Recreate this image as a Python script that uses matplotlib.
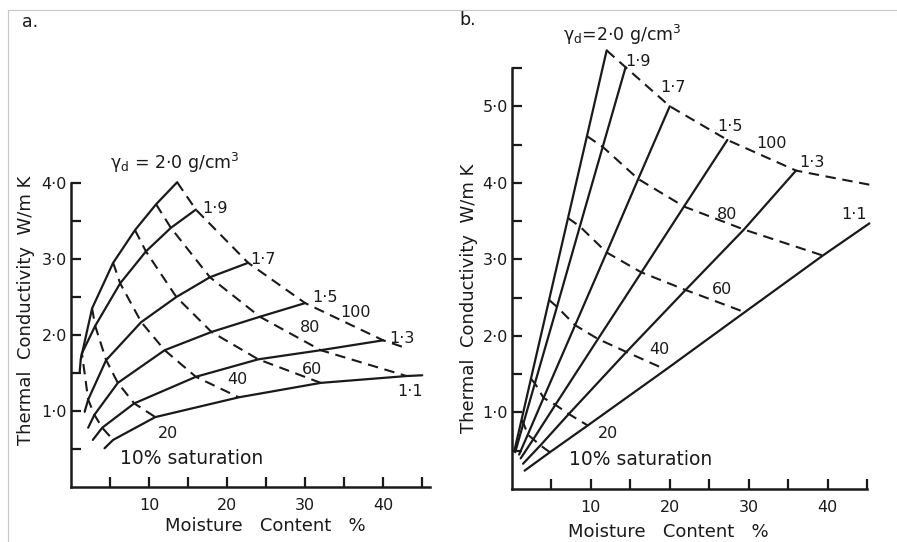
import numpy as np
import matplotlib
matplotlib.use("Agg")
import matplotlib.pyplot as plt
from matplotlib.lines import Line2D

plt.rcParams['font.family'] = ['DejaVu Sans']

nan = np.nan
sat_levels = [10, 20, 40, 60, 80, 100]
densities = ["2·0", "1·9", "1·7", "1·5", "1·3", "1·1"]

# ---------------- panel a ----------------
a_start_w = [1.1, 1.4, 1.75, 2.2, 2.8, 4.3]
a_start_k = [1.50, 1.76, 0.99, 0.78, 0.62, 0.51]
a_w = [
    [1.25, 2.7, 5.4, 8.2, 10.9, 13.6],
    [1.4, 3.1, 6.3, 9.6, 12.8, 16.0],
    [2.2, 4.5, 9.0, 13.5, 17.8, 22.7],
    [3.0, 6.0, 12.0, 18.0, 24.2, 30.0],
    [4.0, 8.1, 16.0, 24.0, 32.0, 40.0],
    [5.4, 10.8, 21.5, 32.0, 43.0, nan],
]
a_k = [
    [1.68, 2.35, 2.95, 3.38, 3.72, 4.01],
    [1.76, 2.12, 2.68, 3.10, 3.41, 3.65],
    [1.15, 1.67, 2.17, 2.50, 2.76, 2.95],
    [0.95, 1.37, 1.80, 2.04, 2.24, 2.42],
    [0.78, 1.10, 1.45, 1.68, 1.80, 1.93],
    [0.62, 0.92, 1.18, 1.37, 1.46, nan],
]
a_ext_w, a_ext_k = 45.0, 1.47          # 1·1 curve runs to the axis end
a_tail_w, a_tail_k = 42.6, 1.84        # short tail of the 100 % line

# ---------------- panel b ----------------
b_start_w = [0.3, 0.4, 0.9, 1.1, 1.4, 1.6]
b_start_k = [0.50, 0.48, 0.45, 0.40, 0.33, 0.24]
b_w = [
    [1.2, 2.4, 4.7, 7.1, 9.5, 12.0],
    [1.45, 2.9, 5.7, 8.6, 11.5, 14.4],
    [2.0, 4.0, 8.0, 12.0, 16.0, 20.0],
    [2.7, 5.5, 10.9, 16.4, 21.8, 27.3],
    [3.6, 7.2, 14.5, 22.0, 29.4, 36.0],
    [4.8, 9.6, 19.5, 29.5, 39.4, nan],
]
b_k = [
    [0.90, 1.44, 2.47, 3.54, 4.61, 5.73],
    [0.86, 1.38, 2.38, 3.43, 4.47, 5.51],
    [0.71, 1.19, 2.14, 3.09, 4.05, 5.00],
    [0.65, 1.10, 1.96, 2.83, 3.69, 4.56],
    [0.57, 0.98, 1.79, 2.60, 3.39, 4.16],
    [0.48, 0.83, 1.56, 2.31, 3.05, nan],
]
b_ext_w, b_ext_k = 45.3, 3.47
b_tail_w = [41.0, 45.6]
b_tail_k = [4.06, 3.97]

# label positions (data coords)
a_labels = [("1·9", 18.4, 3.66), ("1·7", 24.6, 3.00), ("1·5", 32.6, 2.49),
            ("100", 36.4, 2.30), ("80", 30.6, 2.10), ("1·3", 42.4, 1.96),
            ("60", 30.9, 1.55), ("40", 21.3, 1.42), ("1·1", 43.5, 1.26),
            ("20", 12.4, 0.71)]
b_labels = [("1·9", 16.0, 5.58), ("1·7", 20.4, 5.24), ("1·5", 27.6, 4.73),
            ("100", 32.9, 4.51), ("1·3", 38.0, 4.26), ("80", 27.3, 3.59),
            ("1·1", 43.3, 3.58), ("60", 26.6, 2.60), ("40", 18.7, 1.82),
            ("20", 12.2, 0.73)]

x_ticks = [5, 10, 15, 20, 25, 30, 35, 40, 45]
x_ticklabels = ["", "10", "", "20", "", "30", "", "40", ""]
a_yticks = [0.5, 1.0, 1.5, 2.0, 2.5, 3.0, 3.5, 4.0]
a_yticklabels = ["", "1·0", "", "2·0", "", "3·0", "", "4·0"]
b_yticks = [0.5, 1.0, 1.5, 2.0, 2.5, 3.0, 3.5, 4.0, 4.5, 5.0, 5.5]
b_yticklabels = ["", "1·0", "", "2·0", "", "3·0", "", "4·0", "", "5·0", ""]

INK = "#1a1a1a"
W, H = 897, 542
fig = plt.figure(figsize=(W / 100, H / 100), dpi=100)


def px_axes(x0, ybot, w, h):
    return fig.add_axes([x0 / W, (H - ybot) / H, w / W, h / H])


axA = px_axes(71, 487, 359, 304)
axB = px_axes(512, 489, 355, 421)

dash = (0, (5, 3.2))


def draw(ax, sw, sk, ww, kk, ext, tail):
    n = len(sw)
    for i in range(n):
        xs = [sw[i]] + [v for v in ww[i] if not np.isnan(v)]
        ys = [sk[i]] + [v for v in kk[i] if not np.isnan(v)]
        if i == n - 1:
            xs.append(ext[0]); ys.append(ext[1])
        ax.plot(xs, ys, color=INK, lw=1.6, clip_on=False,
                solid_capstyle='round', solid_joinstyle='round')
    for j in range(len(sat_levels)):
        xs = [ww[i][j] for i in range(n) if not np.isnan(ww[i][j])]
        ys = [kk[i][j] for i in range(n) if not np.isnan(kk[i][j])]
        if j == len(sat_levels) - 1:
            xs += list(np.atleast_1d(tail[0])); ys += list(np.atleast_1d(tail[1]))
        ax.plot(xs, ys, color=INK, lw=1.5, ls=dash, clip_on=False)


draw(axA, a_start_w, a_start_k, a_w, a_k, (a_ext_w, a_ext_k), (a_tail_w, a_tail_k))
draw(axB, b_start_w, b_start_k, b_w, b_k, (b_ext_w, b_ext_k), (b_tail_w, b_tail_k))

for ax, xmax, ymax, yt, ytl in [(axA, 46, 4.0, a_yticks, a_yticklabels),
                                 (axB, 45, 5.5, b_yticks, b_yticklabels)]:
    ax.set_xlim(0, xmax)
    ax.set_ylim(0, ymax)
    for s in ("top", "right"):
        ax.spines[s].set_visible(False)
    for s in ("left", "bottom"):
        ax.spines[s].set_linewidth(1.8)
        ax.spines[s].set_color(INK)
    ax.set_xticks(x_ticks)
    ax.set_xticklabels(x_ticklabels)
    ax.set_yticks(yt)
    ax.set_yticklabels(ytl)
    ax.tick_params(direction='in', length=7, width=1.6, color=INK,
                   labelsize=11.5, labelcolor=INK)
    ax.tick_params(axis='x', pad=8)
    ax.tick_params(axis='y', pad=3)
    ax.patch.set_alpha(0)

axA.set_xlabel("Moisture   Content   %", fontsize=13, color=INK)
axA.xaxis.set_label_coords(0.54, -0.10)
axA.set_ylabel("Thermal  Conductivity  W/m K", fontsize=13, color=INK)
axA.yaxis.set_label_coords(-0.10, 0.58)

axB.set_xlabel("Moisture   Content   %", fontsize=13, color=INK)
axB.xaxis.set_label_coords(0.44, -0.08)
axB.set_ylabel("Thermal  Conductivity  W/m K", fontsize=13, color=INK)
axB.yaxis.set_label_coords(-0.096, 0.454)

for ax, labs in [(axA, a_labels), (axB, b_labels)]:
    for t, x, y in labs:
        ax.text(x, y, t, fontsize=11.5, color=INK, ha='center', va='center',
                clip_on=False)

axA.text(15.4, 0.38, "10% saturation", fontsize=13.5, color=INK,
         ha='center', va='center')
axB.text(16.3, 0.39, "10% saturation", fontsize=13.5, color=INK,
         ha='center', va='center')

axA.text(5.0, 4.26, "γ$_\\mathregular{d}$ = 2·0 g/cm$^\\mathregular{3}$", fontsize=12.5,
         color=INK, ha='left', va='center', clip_on=False)
axB.text(6.5, 5.93, "γ$_\\mathregular{d}$=2·0 g/cm$^\\mathregular{3}$", fontsize=12.5,
         color=INK, ha='left', va='center', clip_on=False)

fig.text(30 / W, 1 - 22 / H, "a.", fontsize=12.5, color=INK, ha='center', va='center')
fig.text(468 / W, 1 - 20 / H, "b.", fontsize=12.5, color=INK, ha='center', va='center')

# faint scan frame
grey = "#c8c8c8"
fig.add_artist(Line2D([8 / W, 1], [1 - 10 / H, 1 - 10 / H], color=grey, lw=0.8))
fig.add_artist(Line2D([8 / W, 8 / W], [0, 1 - 10 / H], color=grey, lw=0.8))

fig.savefig("out.png", dpi=100, facecolor="white")
